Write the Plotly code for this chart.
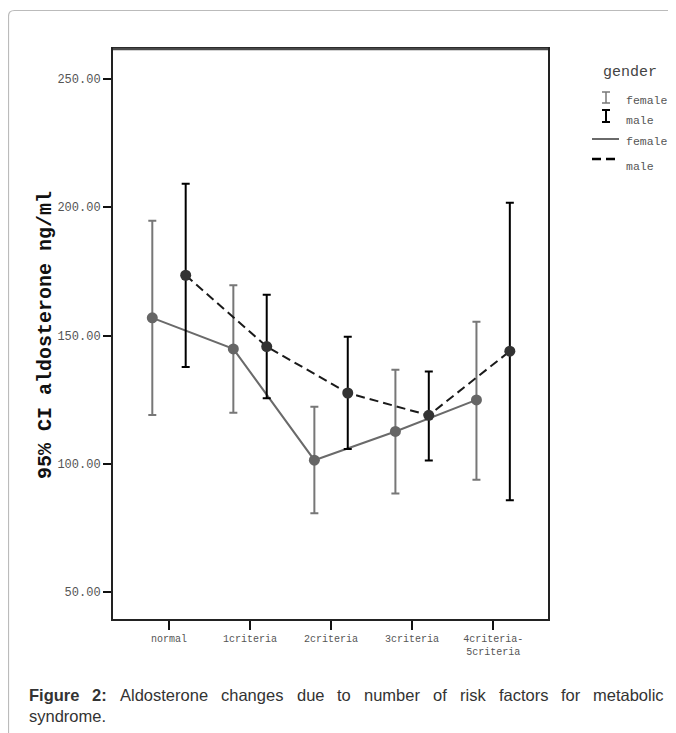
import plotly.graph_objects as go

categories = ["normal", "1criteria", "2criteria", "3criteria", "4criteria-<br>5criteria"]
female_mean = [156.9, 144.8, 101.4, 112.6, 124.9]
female_upper = [194.7, 169.6, 122.2, 136.7, 155.4]
female_lower = [119.0, 119.9, 80.7, 88.4, 93.8]
male_mean = [173.5, 145.7, 127.6, 118.9, 143.9]
male_upper = [209.2, 165.9, 149.5, 136.0, 201.8]
male_lower = [137.7, 125.6, 105.8, 101.3, 85.8]
y_ticks = [50, 100, 150, 200, 250]
caption_bold = "Figure 2:"
caption_line1 = "Aldosterone changes due to number of risk factors for metabolic"
caption_line2 = "syndrome."

W, H = 676, 733
PAGE = 8  # default body margin of the page
L, R, T, B = 113, 548, 49, 619  # plot area in screenshot pixels
OFF = 0.206
FEM = "#6a6a6a"
MAL = "#1a1a1a"


def px(x):
    return (x - L) / (R - L)


def py(y):
    return (B - y) / (B - T)


idx = list(range(len(categories)))
fx = [i - OFF for i in idx]
mx = [i + OFF for i in idx]

fig = go.Figure()
fig.add_trace(go.Scatter(
    x=fx, y=female_mean, mode="lines+markers",
    line=dict(color=FEM, width=2),
    marker=dict(color="#666666", size=11),
    error_y=dict(type="data", symmetric=False,
                 array=[u - m for u, m in zip(female_upper, female_mean)],
                 arrayminus=[m - l for m, l in zip(female_mean, female_lower)],
                 color="#777777", thickness=2, width=4),
    showlegend=False, hoverinfo="skip"))
fig.add_trace(go.Scatter(
    x=mx, y=male_mean, mode="lines+markers",
    line=dict(color=MAL, width=2, dash="9px,5px"),
    marker=dict(color="#333333", size=11),
    error_y=dict(type="data", symmetric=False,
                 array=[u - m for u, m in zip(male_upper, male_mean)],
                 arrayminus=[m - l for m, l in zip(male_mean, male_lower)],
                 color="#000000", thickness=2, width=4),
    showlegend=False, hoverinfo="skip"))

mono = "Liberation Mono, Courier New, monospace"

fig.update_xaxes(range=[-0.691, 4.677], tickmode="array", tickvals=idx, ticktext=categories,
                 showgrid=False, zeroline=False, showline=True, mirror=True,
                 linecolor="#222222", linewidth=2, ticks="outside", ticklen=9,
                 tickwidth=2, tickcolor="#111111",
                 tickfont=dict(family=mono, size=10, color="#555555"))
fig.update_yaxes(range=[39.5, 261.7], tickmode="array", tickvals=y_ticks,
                 ticktext=[f"{v:.2f}" for v in y_ticks],
                 showgrid=False, zeroline=False, showline=True, mirror=True,
                 linecolor="#222222", linewidth=2, ticks="outside", ticklen=8,
                 tickwidth=2, tickcolor="#111111",
                 tickfont=dict(family=mono, size=12, color="#555555"))

shapes = []
# outer frame with rounded corner
x0, y0 = px(8.5), py(10.5)
r_x, r_y = 6 / (R - L), 6 / (B - T)
shapes.append(dict(type="path", xref="paper", yref="paper",
                   path=f"M {x0},{py(745)} L {x0},{y0 - r_y} Q {x0},{y0} {x0 + r_x},{y0} L {px(700)},{y0}",
                   line=dict(color="#bbbbbb", width=1.2)))
# top border darker gray
shapes.append(dict(type="line", xref="paper", yref="paper", x0=0, x1=1, y0=1, y1=1,
                   line=dict(color="#4a4a4a", width=2.5)))


def ibar(xc, ytop, ybot, color, w):
    return [
        dict(type="line", xref="paper", yref="paper", x0=px(xc), x1=px(xc), y0=py(ytop), y1=py(ybot), line=dict(color=color, width=w)),
        dict(type="line", xref="paper", yref="paper", x0=px(xc - 4), x1=px(xc + 4), y0=py(ytop), y1=py(ytop), line=dict(color=color, width=w)),
        dict(type="line", xref="paper", yref="paper", x0=px(xc - 4), x1=px(xc + 4), y0=py(ybot), y1=py(ybot), line=dict(color=color, width=w)),
    ]


shapes += ibar(606, 92, 103, "#777777", 1.5)
shapes += ibar(606, 110, 122, "#000000", 2)
shapes.append(dict(type="line", xref="paper", yref="paper", x0=px(592), x1=px(619), y0=py(139), y1=py(139),
                   line=dict(color=FEM, width=2)))
shapes.append(dict(type="line", xref="paper", yref="paper", x0=px(592), x1=px(619), y0=py(159), y1=py(159),
                   line=dict(color="#000000", width=2.5, dash="9px,5px")))

annotations = []
annotations.append(dict(text="gender", xref="paper", yref="paper", x=px(630), y=py(72),
                        xanchor="center", yanchor="middle", showarrow=False,
                        font=dict(family=mono, size=15, color="#444444")))
for label, yy in [("female", 101), ("male", 121), ("female", 142), ("male", 166)]:
    annotations.append(dict(text=label, xref="paper", yref="paper", x=px(624), y=py(yy),
                            xanchor="left", yanchor="middle", showarrow=False,
                            font=dict(family=mono, size=11.5, color="#555555")))
# y axis title
annotations.append(dict(text="<b>95% CI aldosterone ng/ml</b>", xref="paper", yref="paper",
                        x=px(45), y=py(335), textangle=-90, xanchor="center", yanchor="middle",
                        showarrow=False, font=dict(family=mono, size=20, color="#111111")))

# caption: first line justified between x=27 and x=662 (Arial metrics)
REG = {'a': 556, 'b': 556, 'c': 500, 'd': 556, 'e': 556, 'f': 278, 'g': 556, 'h': 556, 'i': 222,
       'j': 222, 'k': 500, 'l': 222, 'm': 833, 'n': 556, 'o': 556, 'p': 556, 'q': 556, 'r': 333,
       's': 500, 't': 278, 'u': 556, 'v': 500, 'w': 722, 'x': 500, 'y': 500, 'z': 500, 'A': 667,
       'F': 611, '.': 278, ':': 278, '2': 556}
BOLD = {'F': 611, 'i': 278, 'g': 611, 'u': 611, 'r': 389, 'e': 556, '2': 556, ':': 333}
CS = 16.5
cap_font = dict(family="Liberation Sans, Arial, sans-serif", size=CS, color="#333333")


def wwidth(word, table):
    return sum(table.get(c, 556) for c in word) * CS / 1000.0


words = [(w, True) for w in caption_bold.split()] + [(w, False) for w in caption_line1.split()]
widths = [wwidth(w, BOLD if b else REG) for w, b in words]
x_start, x_end = 27, 662
gap = (x_end - x_start - sum(widths)) / (len(words) - 1)
xc = x_start
for (w, b), wd in zip(words, widths):
    annotations.append(dict(text=f"<b>{w}</b>" if b else w, xref="paper", yref="paper",
                            x=px(xc), y=py(695), xanchor="left", yanchor="middle",
                            showarrow=False, font=cap_font))
    xc += wd + gap
annotations.append(dict(text=caption_line2, xref="paper", yref="paper", x=px(27), y=py(716),
                        xanchor="left", yanchor="middle", showarrow=False, font=cap_font))

fig.update_layout(width=W, height=H,
                  margin=dict(l=L - PAGE, r=W - (R - PAGE), t=T - PAGE, b=H - (B - PAGE)),
                  paper_bgcolor="white", plot_bgcolor="white",
                  shapes=shapes, annotations=annotations, showlegend=False)

fig.write_html("out.html")
